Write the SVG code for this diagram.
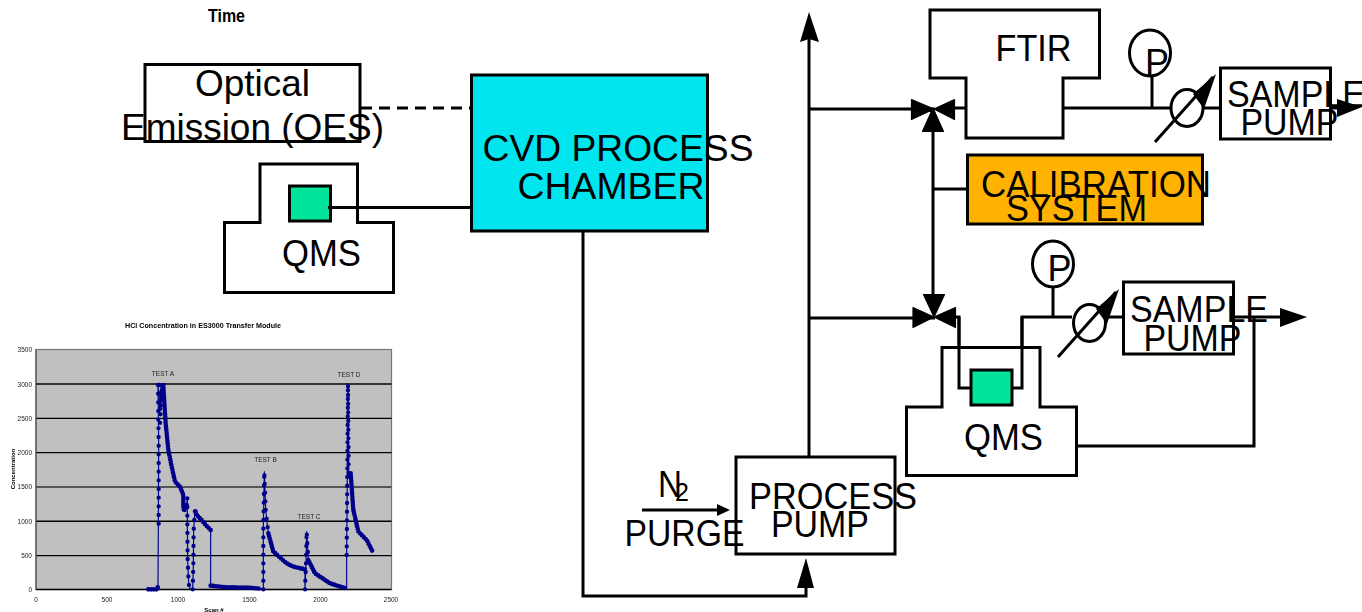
<svg xmlns="http://www.w3.org/2000/svg" width="1362" height="612" viewBox="0 0 1362 612">
<defs><filter id="soft" x="-5%" y="-5%" width="110%" height="110%"><feGaussianBlur stdDeviation="0.45"/></filter></defs>
<style>
text{font-family:"Liberation Sans",Arial,sans-serif;fill:#000}
.l{font-size:36px}
.s{fill:none;stroke:#000;stroke-width:3}
.b{fill:#fff;stroke:#000;stroke-width:3}
.a{fill:#000;stroke:none}
.v{fill:#000;stroke:#000;stroke-width:1.2;stroke-linejoin:round}
.c{font-size:6.5px;fill:#222}
.g{stroke:#000;stroke-width:1.4}
</style>
<rect width="1362" height="612" fill="#fff"/>
<g id="chart" filter="url(#soft)">
<rect x="36" y="349.5" width="355.5" height="240" fill="#c0c0c0" stroke="#777" stroke-width="1.2"/>
<path class="g" d="M36 384H391.5M36 418.4H391.5M36 452.6H391.5M36 521.3H391.5M36 555.6H391.5M36 589.5H391.5"/>
<path d="M36 487H391.5" stroke="#555" stroke-width="1.8"/>
<path d="M36 349.5V589.5" stroke="#555" stroke-width="1.2"/>
<g transform="translate(0 310) scale(.33333)">
<path id="curve" fill="none" stroke="#00008b" stroke-width="3.500" stroke-linejoin="round" d="M445 838H470L474 830L475 655L476 400L474 225L480 300L485 240L489 222L492 260L497 340L505 420L515 470L525 515L540 530L550 555L550 590L552 603L560 585L562 565L562 640L563 750L566 820L570 838H578L580 770L581 660L585 600L590 615L600 625L632 660V827L680 832L750 833L780 836L790 838V650L793 485L797 600L805 670L820 725L860 760L880 770L915 778V838L918 760L920 665L925 750L945 790L990 820L1040 836V735L1044 222L1046 490L1052 490L1060 600L1075 665L1100 690L1118 725"/>
<path fill="none" stroke="#00008b" stroke-width="14" stroke-linecap="round" stroke-dasharray="0 8" d="M445 838H470L474 830M484 250L490 222L492 260L497 340L505 420L515 470L525 515L540 530L550 555L550 590L552 603L560 585M632 660L620 648L600 625L590 615L585 600M632 827L680 832L750 833L780 836M805 670L820 725L860 760L880 770L915 778M925 750L945 790L990 820L1040 836M1052 490L1060 600L1075 665L1100 690L1118 725"/>
<path fill="none" stroke="#00008b" stroke-width="13" stroke-linecap="round" stroke-dasharray="0 26" d="M474 225L476 400L476 660M478 225L480 300L485 240L480 345L478 350M562 565L562 640L563 750L566 820L570 838M578 838L580 770L581 660L585 600M790 838V650L793 485L797 600L805 670M915 838L918 760L920 665L925 750M1040 735L1044 222L1046 490"/>
</g>
<text x="203" y="328" font-size="6.5" font-weight="bold" text-anchor="middle" textLength="156" lengthAdjust="spacingAndGlyphs">HCl Concentration in ES3000 Transfer Module</text>
<g text-anchor="end">
<text class="c" x="32" y="352">3500</text><text class="c" x="32" y="386.500">3000</text><text class="c" x="32" y="420.500">2500</text><text class="c" x="32" y="455">2000</text><text class="c" x="32" y="489">1500</text><text class="c" x="32" y="523.500">1000</text><text class="c" x="32" y="558">500</text><text class="c" x="32" y="592">0</text>
</g>
<g text-anchor="middle">
<text class="c" x="36" y="602">0</text><text class="c" x="107" y="602">500</text><text class="c" x="178" y="602">1000</text><text class="c" x="249.500" y="602">1500</text><text class="c" x="320.500" y="602">2000</text><text class="c" x="391" y="602">2500</text>
<text class="c" x="163" y="376">TEST A</text><text class="c" x="265.500" y="462">TEST B</text><text class="c" x="309" y="519">TEST C</text><text class="c" x="349" y="377">TEST D</text>
<text x="214" y="612" font-size="6" font-weight="bold">Scan #</text>
<text transform="translate(14.500 469) rotate(-90)" font-size="6" font-weight="bold">Concentration</text>
</g>
</g>
<g id="connectors">
<path class="s" stroke-dasharray="11 7" d="M361 108H475"/>
<path class="s" d="M328 207.500H472"/>
<path class="s" d="M583 231V596H806V575"/>
<path class="s" d="M809 457V30"/>
<path class="s" d="M809 109H935M809 318H935"/>
<path class="s" d="M933 118V305M933 189H968"/>
<path class="s" d="M950 108H968M1063 108H1170M1203 108H1221M1152 108V76"/>
<path class="s" d="M1155 142L1213 77"/>
<path class="a" d="M1216 74L1204 109L1193 94Z"/>
<path class="s" d="M1330 108H1345"/>
<path class="a" d="M1337 99L1362 107L1337 117Z"/>
<path class="s" d="M950 317H959V388H971M1012 388H1022V317H1072M1106 317H1123M1053 317V285"/>
<path class="s" d="M1058 357L1116 292"/>
<path class="a" d="M1119 289L1107 324L1096 309Z"/>
<path class="s" d="M1233 317H1285M1254 317V446H1076"/>
<path class="a" d="M1280 308L1307 317L1280 327Z"/>
<path class="s" d="M642 510H725"/>
<path class="a" d="M730 510L717 504V516Z"/>
<path class="a" d="M806 558L797 588H814Z"/>
<path class="a" d="M809 12L800 42L809 39L819 42Z"/>
</g>
<g id="oes"><rect class="b" x="145" y="64.500" width="215" height="77"/>
<text class="l" x="252.500" y="95.500" text-anchor="middle" textLength="115" lengthAdjust="spacingAndGlyphs">Optical</text>
<text class="l" x="252.500" y="139.500" text-anchor="middle" textLength="263" lengthAdjust="spacingAndGlyphs">Emission (OES)</text></g>
<g id="qms1"><path class="b" d="M260 164H357.500V222.500H393.500V292.500H224.500V222.500H260Z"/>
<rect x="289.500" y="186" width="41" height="35" fill="#00e59b" stroke="#000" stroke-width="3"/>
<path class="s" d="M328 207.500H357.500"/>
<text class="l" x="321.500" y="266" text-anchor="middle" textLength="79" lengthAdjust="spacingAndGlyphs">QMS</text></g>
<g id="chamber"><rect x="471.500" y="75" width="236" height="156" fill="#00e5ee" stroke="#000" stroke-width="3"/>
<text class="l" x="618" y="160.500" text-anchor="middle" textLength="271" lengthAdjust="spacingAndGlyphs">CVD PROCESS</text>
<text class="l" x="611" y="198.500" text-anchor="middle" textLength="187" lengthAdjust="spacingAndGlyphs">CHAMBER</text></g>
<g id="ftir"><path class="b" d="M930 10H1099.500V78H1063V138H966V78H930Z"/>
<text class="l" x="1033.500" y="61" text-anchor="middle" textLength="76" lengthAdjust="spacingAndGlyphs">FTIR</text></g>
<g id="calibration"><rect x="967.500" y="155" width="235" height="69" fill="#ffb300" stroke="#000" stroke-width="3"/>
<text class="l" x="1096" y="196.500" text-anchor="middle" textLength="230" lengthAdjust="spacingAndGlyphs">CALIBRATION</text>
<text class="l" x="1076.500" y="220.500" text-anchor="middle" textLength="141" lengthAdjust="spacingAndGlyphs">SYSTEM</text></g>
<g id="valve1"><path class="v" d="M911.500 99.500L934 109L911.500 119.500ZM954.500 99.500L934 109L954.500 119.500ZM933 108L943.500 131.500H922.500Z"/></g>
<g id="valve2"><path class="v" d="M913 307.500L934 317L913 327.500ZM955.500 307.500L934 317L955.500 327.500ZM934 317L923.500 294.500H944.500Z"/></g>
<g id="gauge1"><ellipse cx="1150" cy="53" rx="20.500" ry="23" fill="#fff" stroke="#000" stroke-width="3"/><text x="1157" y="75" font-size="36" text-anchor="middle">P</text></g>
<g id="flow1"><ellipse cx="1187" cy="108" rx="16" ry="18.500" fill="none" stroke="#000" stroke-width="3"/></g>
<g id="pump1"><rect class="b" x="1220.500" y="68" width="110" height="71"/>
<text class="l" x="1296" y="106.500" text-anchor="middle" textLength="138" lengthAdjust="spacingAndGlyphs">SAMPLE</text>
<text class="l" x="1289.500" y="134.500" text-anchor="middle" textLength="98" lengthAdjust="spacingAndGlyphs">PUMP</text></g>
<g id="gauge2"><ellipse cx="1053" cy="264" rx="20.500" ry="23" fill="#fff" stroke="#000" stroke-width="3"/><text x="1059.500" y="281" font-size="36" text-anchor="middle">P</text></g>
<g id="flow2"><ellipse cx="1089.500" cy="323" rx="16" ry="18.500" fill="none" stroke="#000" stroke-width="3"/></g>
<g id="pump2"><rect class="b" x="1123.500" y="282" width="110" height="72"/>
<text class="l" x="1199" y="321.500" text-anchor="middle" textLength="138" lengthAdjust="spacingAndGlyphs">SAMPLE</text>
<text class="l" x="1192.500" y="350.500" text-anchor="middle" textLength="98" lengthAdjust="spacingAndGlyphs">PUMP</text></g>
<g id="qms2"><path class="b" d="M942 347.500H1040V407H1076.500V475.500H906.500V407H942Z"/>
<rect x="971" y="370" width="41" height="35" fill="#00e59b" stroke="#000" stroke-width="3"/>
<path class="s" d="M959 317V388H971M1012 388H1022V317"/>
<text class="l" x="1003.500" y="450" text-anchor="middle" textLength="79" lengthAdjust="spacingAndGlyphs">QMS</text></g>
<g id="pump3"><rect class="b" x="736" y="457" width="159" height="97"/>
<text class="l" x="833" y="508.500" text-anchor="middle" textLength="168" lengthAdjust="spacingAndGlyphs">PROCESS</text>
<text class="l" x="820" y="536.500" text-anchor="middle" textLength="98" lengthAdjust="spacingAndGlyphs">PUMP</text></g>
<g id="purge"><text class="l" x="658" y="496.500" textLength="24" lengthAdjust="spacingAndGlyphs">N</text>
<text x="675" y="501" font-size="25">2</text>
<text class="l" x="684.500" y="546" text-anchor="middle" textLength="120" lengthAdjust="spacingAndGlyphs">PURGE</text></g>
<text id="time" x="208" y="22" font-size="18.500" font-weight="bold" textLength="37" lengthAdjust="spacingAndGlyphs">Time</text>
</svg>
